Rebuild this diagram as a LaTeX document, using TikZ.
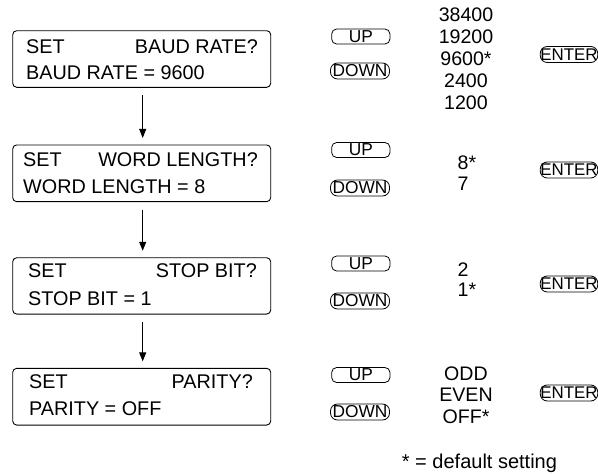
\documentclass[tikz,border=0pt]{standalone}
\usepackage{fontspec}
\newfontfamily\lsans{Liberation Sans}
\usetikzlibrary{arrows.meta}
\tikzset{
  lcd/.style={draw=black, line width=0.9pt, rounded corners=4pt, minimum width=258pt, inner sep=0pt, outer sep=0pt},
  lcdtxt/.style={inner sep=0pt, font=\lsans\fontsize{19.8pt}{22pt}\selectfont},
  valtxt/.style={inner sep=0pt, font=\lsans\fontsize{19.6pt}{22pt}\selectfont},
  btn/.style={draw=black, line width=0.8pt, inner sep=0pt, outer sep=0pt, font=\lsans\fontsize{17.3pt}{18pt}\selectfont},
  upbtn/.style={btn, rounded corners=5pt, minimum width=58.3pt, minimum height=15pt},
  downbtn/.style={btn, rounded corners=7pt, minimum width=59pt, minimum height=16pt},
  enterbtn/.style={btn, rounded corners=7pt, minimum width=57.5pt, minimum height=16pt, font=\lsans\fontsize{16.9pt}{18pt}\selectfont},
  arr/.style={line width=0.9pt, -{Triangle[width=7pt,length=9pt]}, shorten <=8pt, shorten >=7pt}
}
\begin{document}
\begin{tikzpicture}[x=1pt,y=-1pt]
\useasboundingbox (0,0) rectangle (598,474);
% LCD boxes
\node[lcd, minimum height=56.6pt] (b1) at (141.7,59) {};
\node[lcd, minimum height=56.7pt] (b2) at (141.7,173.3) {};
\node[lcd, minimum height=56.3pt] (b3) at (141.7,285.9) {};
\node[lcd, minimum height=56.7pt] (b4) at (141.7,396.7) {};
% LCD texts
\node[lcdtxt, anchor=base west] (t1a) at (26,53) {SET};
\node[lcdtxt, anchor=base east] (t1b) at (258,53) {BAUD RATE?};
\node[lcdtxt, anchor=base west] (t1c) at (26,79) {BAUD RATE = 9600};
\node[lcdtxt, anchor=base west] (t2a) at (23,166) {SET};
\node[lcdtxt, anchor=base east] (t2b) at (258,166) {WORD LENGTH?};
\node[lcdtxt, anchor=base west] (t2c) at (23,193) {WORD LENGTH = 8};
\node[lcdtxt, anchor=base west] (t3a) at (28,277.7) {SET};
\node[lcdtxt, anchor=base east] (t3b) at (257,277.7) {STOP BIT?};
\node[lcdtxt, anchor=base west] (t3c) at (28,305.7) {STOP BIT = 1};
\node[lcdtxt, anchor=base west] (t4a) at (29,388.3) {SET};
\node[lcdtxt, anchor=base east] (t4b) at (253,388.3) {PARITY?};
\node[lcdtxt, anchor=base west] (t4c) at (29,415) {PARITY = OFF};
% arrows
\draw[arr] ([xshift=1pt]b1.south) -- ([xshift=1pt]b2.north);
\draw[arr] ([xshift=1pt]b2.south) -- ([xshift=1pt]b3.north);
\draw[arr] ([xshift=1pt]b3.south) -- ([xshift=1pt]b4.north);
% buttons group 1
\node[upbtn] (u1) at (360.8,36.5) {UP};
\node[downbtn] (d1) at (360,71) {DOWN};
\node[enterbtn] (e1) at (569,54.5) {ENTER};
% buttons group 2
\node[upbtn] (u2) at (360.8,150) {UP};
\node[downbtn] (d2) at (360,188) {DOWN};
\node[enterbtn] (e2) at (569,170) {ENTER};
% buttons group 3
\node[upbtn] (u3) at (360.8,263.5) {UP};
\node[downbtn] (d3) at (360,301) {DOWN};
\node[enterbtn] (e3) at (569,284) {ENTER};
% buttons group 4
\node[upbtn] (u4) at (360.8,375) {UP};
\node[downbtn] (d4) at (360,412) {DOWN};
\node[enterbtn] (e4) at (569,393) {ENTER};
% values
\node[valtxt, anchor=base] (v11) at (466,21.5) {38400};
\node[valtxt, anchor=base] (v12) at (466,43.5) {19200};
\node[valtxt, anchor=base] (v13) at (466,65.5) {9600*};
\node[valtxt, anchor=base] (v14) at (466,87.5) {2400};
\node[valtxt, anchor=base] (v15) at (466,109.5) {1200};
\node[valtxt, anchor=base west] (v21) at (457.5,169) {8*};
\node[valtxt, anchor=base west] (v22) at (457.5,190) {7};
\node[valtxt, anchor=base west] (v31) at (457.5,276) {2};
\node[valtxt, anchor=base west] (v32) at (457.5,296) {1*};
\node[valtxt, anchor=base] (v41) at (466,380) {ODD};
\node[valtxt, anchor=base] (v42) at (466,401.5) {EVEN};
\node[valtxt, anchor=base] (v43) at (466,423) {OFF*};
% footnote
\node[inner sep=0pt, anchor=base west, font=\lsans\fontsize{20pt}{22pt}\selectfont] (fn) at (401.7,468) {* = default setting};
\end{tikzpicture}
\end{document}
